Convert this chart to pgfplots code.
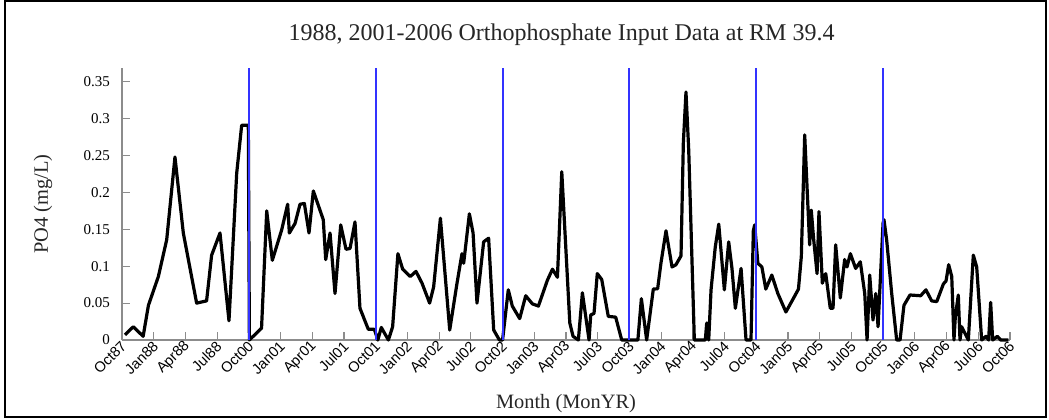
\documentclass[border=0pt]{standalone}
\usepackage{fontspec}
\setmainfont{Liberation Serif}
\newfontfamily\arialfont{Liberation Sans}
\usepackage{pgfplots}
\pgfplotsset{compat=1.18}
\usepackage{pgfplotstable}
\definecolor{axgray}{rgb}{0.55,0.55,0.55}
\definecolor{vblue}{rgb}{0.2,0.2,1.0}

\pgfplotstableread{
m y
0.28 0.007
1.07 0.018
2.0 0.005
2.5 0.047
3.44 0.086
4.23 0.136
5.01 0.248
5.8 0.145
7.06 0.050
8.0 0.053
8.48 0.115
9.27 0.145
10.12 0.026
10.85 0.226
11.32 0.291
11.95 0.291
12.05 0
13.2 0.016
13.69 0.175
14.22 0.108
15.1 0.149
15.67 0.184
15.83 0.145
16.37 0.158
16.84 0.184
17.25 0.185
17.69 0.145
18.1 0.202
19.04 0.163
19.27 0.109
19.68 0.145
20.15 0.063
20.69 0.156
21.19 0.123
21.57 0.124
22.04 0.160
22.51 0.043
23.3 0.0145
23.87 0.0145
24.2 0
24.53 0.017
25.2 0
25.6 0.018
26.1 0.117
26.55 0.096
27.27 0.086
27.81 0.093
28.38 0.077
29.1 0.050
29.48 0.072
30.12 0.165
31.0 0.0135
31.69 0.077
32.16 0.117
32.32 0.104
32.86 0.171
33.21 0.145
33.58 0.050
34.21 0.133
34.68 0.138
35.16 0.0135
35.7 0
36.0 0
36.54 0.068
36.92 0.046
37.62 0.029
38.19 0.060
38.82 0.049
39.39 0.046
40.24 0.081
40.72 0.096
41.19 0.085
41.6 0.228
42.36 0.023
42.67 0.005
43.17 0
43.55 0.064
44.18 0
44.34 0.034
44.65 0.036
44.96 0.090
45.38 0.082
46.0 0.032
46.7 0.031
47.27 0
48.8 0
49.13 0.056
49.63 0
50.26 0.069
50.67 0.0695
50.98 0.104
51.46 0.148
52.03 0.099
52.4 0.102
52.88 0.114
53.1 0.267
53.35 0.336
53.61 0.257
54.14 0
55.18 0
55.31 0.023
55.5 0
55.72 0.068
56.12 0.126
56.45 0.157
56.98 0.068
57.39 0.133
57.7 0.097
58.02 0.043
58.56 0.097
59.03 0
59.5 0
59.72 0.148
59.85 0.156
60.0 0.13
60.15 0.104
60.53 0.099
60.9 0.069
61.47 0.088
62.04 0.063
62.8 0.038
63.42 0.054
63.99 0.069
64.26 0.113
64.58 0.278
64.9 0.176
65.05 0.129
65.2 0.176
65.43 0.136
65.75 0.090
65.93 0.174
66.25 0.077
66.57 0.090
67.0 0.043
67.26 0.043
67.51 0.129
67.95 0.057
68.36 0.109
68.58 0.099
68.9 0.117
69.4 0.097
69.84 0.106
70.26 0.063
70.48 0
70.73 0.088
71.04 0.027
71.3 0.063
71.52 0.018
71.99 0.158
72.08 0.163
72.33 0.136
72.81 0.063
73.28 0
73.6 0
73.97 0.047
74.54 0.061
75.55 0.060
76.05 0.068
76.59 0.053
77.07 0.052
77.7 0.076
77.95 0.080
78.2 0.102
78.49 0.086
78.7 0
78.83 0.032
79.11 0.061
79.27 0
79.43 0.018
80.06 0
80.53 0.115
80.85 0.099
81.32 0
81.73 0.005
81.98 0
82.17 0.051
82.36 0
82.8 0.005
83.12 0
83.84 0
}\podata

\begin{document}
\begin{tikzpicture}
\begin{axis}[
  at={(61pt,39.5pt)}, anchor=south west,
  scale only axis, width=444pt, height=136pt,
  xmin=0, xmax=84, ymin=0, ymax=0.3686,
  axis x line*=bottom, axis y line*=left,
  axis line style={axgray, line width=0.8pt},
  every tick/.style={axgray, line width=0.6pt},
  major tick length=4pt,
  tick align=inside,
  xtick={0,3,...,84},
  xticklabels={Oct87,Jan88,Apr88,Jul88,Oct00,Jan01,Apr01,Jul01,Oct01,Jan02,Apr02,Jul02,Oct02,Jan03,Apr03,Jul03,Oct03,Jan04,Apr04,Jul04,Oct04,Jan05,Apr05,Jul05,Oct05,Jan06,Apr06,Jul06,Oct06},
  x tick label style={font=\arialfont\fontsize{7.3}{8.5}\selectfont, rotate=45, anchor=east, inner sep=1pt, yshift=-2pt, xshift=0.5pt},
  ytick={0,0.05,0.1,0.15,0.2,0.25,0.3,0.35},
  yticklabels={0,0.05,0.1,0.15,0.2,0.25,0.3,0.35},
  scaled y ticks=false,
  y tick label style={font=\fontsize{7.5}{9}\selectfont, xshift=-2.5pt},
  title={1988, 2001-2006 Orthophosphate Input Data at RM 39.4},
  title style={at={(axis description cs:0.495,1.077)}, anchor=center, font=\fontsize{12}{14}\selectfont, text=black!85},
  xlabel={Month (MonYR)},
  xlabel style={at={(axis description cs:0.5,-0.235)}, anchor=center, font=\fontsize{10.2}{12}\selectfont, text=black!85},
  ylabel={PO4 (mg/L)},
  ylabel style={at={(axis description cs:-0.089,0.5)}, anchor=center, rotate=0, font=\fontsize{10.2}{12}\selectfont, text=black!85},
  clip=false,
]
\addplot[black, line width=1.6pt, line join=round] table[x=m, y=y] {\podata};
\addplot[vblue, line width=1pt] coordinates {(12,0) (12,0.3686)};
\addplot[vblue, line width=1pt] coordinates {(24,0) (24,0.3686)};
\addplot[vblue, line width=1pt] coordinates {(36,0) (36,0.3686)};
\addplot[vblue, line width=1pt] coordinates {(48,0) (48,0.3686)};
\addplot[vblue, line width=1pt] coordinates {(60,0) (60,0.3686)};
\addplot[vblue, line width=1pt] coordinates {(72,0) (72,0.3686)};
\end{axis}
\pgfresetboundingbox
\useasboundingbox (0,0) rectangle (524.5pt,209.5pt);
\draw[black, line width=1pt] (2.25pt,1pt) rectangle (523pt,209pt);
\end{tikzpicture}
\end{document}
